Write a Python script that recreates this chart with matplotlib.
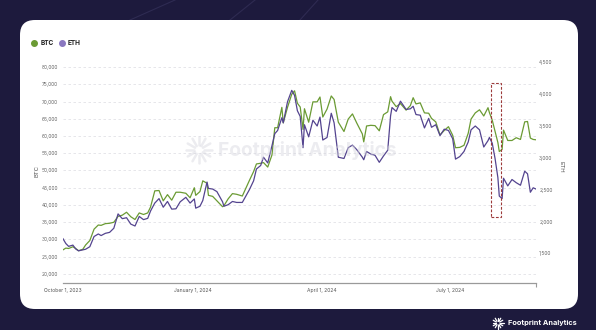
import matplotlib
matplotlib.use("Agg")
import matplotlib.pyplot as plt
import matplotlib.dates as mdates
from matplotlib.patches import FancyBboxPatch, Rectangle
from matplotlib.lines import Line2D
import numpy as np
import pandas as pd

plt.rcParams['font.family'] = ['Inter', 'DejaVu Sans']

dates = [
    "2023-10-01", "2023-10-03", "2023-10-05", "2023-10-08", "2023-10-10", "2023-10-12",
    "2023-10-15", "2023-10-17", "2023-10-20", "2023-10-23", "2023-10-26", "2023-10-28",
    "2023-10-31", "2023-11-03", "2023-11-06", "2023-11-09", "2023-11-12", "2023-11-15",
    "2023-11-18", "2023-11-21", "2023-11-24", "2023-11-27", "2023-11-30", "2023-12-02",
    "2023-12-05", "2023-12-08", "2023-12-11", "2023-12-14", "2023-12-17", "2023-12-20",
    "2023-12-23", "2023-12-27", "2023-12-30", "2024-01-02", "2024-01-03", "2024-01-06",
    "2024-01-08", "2024-01-11", "2024-01-12", "2024-01-15", "2024-01-18", "2024-01-22",
    "2024-01-23", "2024-01-26", "2024-01-29", "2024-02-01", "2024-02-05", "2024-02-08",
    "2024-02-10", "2024-02-13", "2024-02-15", "2024-02-18", "2024-02-20", "2024-02-23",
    "2024-02-26", "2024-02-28", "2024-03-01", "2024-03-04", "2024-03-05", "2024-03-08",
    "2024-03-11", "2024-03-13", "2024-03-15", "2024-03-17", "2024-03-19", "2024-03-20",
    "2024-03-23", "2024-03-26", "2024-03-29", "2024-03-31", "2024-04-02", "2024-04-05",
    "2024-04-08", "2024-04-10", "2024-04-13", "2024-04-17", "2024-04-20", "2024-04-23",
    "2024-04-26", "2024-04-30", "2024-05-01", "2024-05-03", "2024-05-06", "2024-05-09",
    "2024-05-12", "2024-05-15", "2024-05-18", "2024-05-20", "2024-05-21", "2024-05-24",
    "2024-05-27", "2024-05-31", "2024-06-03", "2024-06-05", "2024-06-07", "2024-06-10",
    "2024-06-13", "2024-06-16", "2024-06-18", "2024-06-21", "2024-06-24", "2024-06-27",
    "2024-06-30", "2024-07-03", "2024-07-05", "2024-07-08", "2024-07-11", "2024-07-14",
    "2024-07-16", "2024-07-19", "2024-07-22", "2024-07-25", "2024-07-28", "2024-07-29",
    "2024-07-31", "2024-08-02", "2024-08-04", "2024-08-05", "2024-08-07", "2024-08-08",
    "2024-08-11", "2024-08-14", "2024-08-17", "2024-08-20", "2024-08-23", "2024-08-25",
    "2024-08-27", "2024-08-29", "2024-08-31",
]

btc = [
    27000, 27500, 27400, 27900, 27400, 26750, 27150, 28400, 29700, 33000, 34200, 34100,
    34600, 34700, 35000, 36700, 37050, 37900, 36600, 35800, 37700, 37250, 37700, 39400,
    44100, 44200, 41200, 43000, 41400, 43700, 43700, 43400, 42100, 45000, 42800, 43900,
    47000, 46300, 42800, 42500, 41200, 39500, 39800, 41800, 43300, 43100, 42600, 45300,
    47100, 49700, 51900, 52100, 52300, 51000, 54500, 62400, 62400, 68300, 63800, 68300,
    72100, 73100, 69500, 68400, 61900, 67900, 64000, 69900, 69900, 71300, 65500, 67800,
    71600, 70600, 64000, 61300, 64900, 66400, 63800, 60600, 58300, 62900, 63100, 63000,
    61500, 66200, 67000, 71400, 70100, 68500, 69400, 67500, 68800, 71100, 69300, 69600,
    66700, 66600, 65100, 64100, 60300, 61600, 62700, 60200, 56600, 56700, 57300, 60800,
    64900, 66700, 67600, 65800, 68200, 66800, 64600, 61400, 58100, 55500, 56100, 61700,
    58700, 58700, 59500, 59000, 64100, 64200, 59400, 59000, 58900,
]

eth = [
    1730, 1655, 1610, 1630, 1570, 1540, 1555, 1565, 1605, 1765, 1805, 1780,
    1815, 1830, 1895, 2120, 2045, 2060, 1960, 1930, 2080, 2030, 2050, 2165,
    2290, 2360, 2225, 2315, 2195, 2200, 2310, 2380, 2290, 2355, 2210, 2240,
    2330, 2620, 2520, 2510, 2470, 2310, 2240, 2265, 2315, 2300, 2300, 2420,
    2500, 2640, 2825, 2880, 3010, 2920, 3190, 3380, 3430, 3630, 3550, 3880,
    4060, 3980, 3740, 3650, 3160, 3520, 3330, 3590, 3500, 3640, 3280, 3320,
    3700, 3550, 3010, 2990, 3160, 3200, 3130, 3010, 2970, 3100, 3060, 3040,
    2930, 3030, 3120, 3660, 3790, 3730, 3890, 3760, 3770, 3810, 3680, 3670,
    3470, 3620, 3480, 3520, 3350, 3450, 3430, 3300, 2980, 3020, 3100, 3250,
    3440, 3500, 3440, 3170, 3270, 3320, 3230, 2990, 2690, 2400, 2360, 2680,
    2560, 2660, 2610, 2570, 2790, 2750, 2460, 2530, 2510,
]

tick_dates = ["2023-10-01", "2024-01-01", "2024-04-01", "2024-07-01"]
tick_labels = ["October 1, 2023", "January 1, 2024", "April 1, 2024", "July 1, 2024"]
btc_ticks = list(range(20000, 80001, 5000))
eth_ticks = list(range(1500, 4501, 500))

BTC_COLOR = "#6b9b34"
ETH_COLOR = "#54448f"
BG = "#1d1a3d"

x = pd.to_datetime(dates)

fig = plt.figure(figsize=(5.96, 3.30), dpi=100)
fig.patch.set_facecolor(BG)
W, H = 596, 330

def px(xp, yp):
    return xp / W, 1 - yp / H

# faint diagonal streaks in the dark background
for x0, x1 in [(130, 175), (230, 255), (300, 318)]:
    fig.add_artist(Line2D([x0 / W, x1 / W], [1 - 20 / H, 1.0], color="#3a3660",
                          lw=0.8, alpha=0.6, zorder=-6))

# white card behind the axes
card = FancyBboxPatch(px(20, 309), 558 / W, 289 / H,
                      boxstyle="round,pad=0,rounding_size=0.025",
                      transform=fig.transFigure, facecolor="white", edgecolor="none",
                      mutation_aspect=W / H, zorder=-5)
fig.add_artist(card)

ax = fig.add_axes([63 / W, 1 - 283 / H, 473 / W, 221 / H])
ax.set_facecolor("none")
ax2 = ax.twinx()
ax2.set_facecolor("none")

ax.plot(x, btc, color=BTC_COLOR, lw=0.9, zorder=3)
ax2.plot(x, eth, color=ETH_COLOR, lw=0.9, zorder=3)

ax.set_xlim(pd.Timestamp("2023-10-01"), pd.Timestamp("2024-08-31"))
ax.set_ylim(17390, 81450)
ax2.set_ylim(1035, 4505)

ax.set_yticks(btc_ticks)
ax.set_yticklabels([f"{v:,}" for v in btc_ticks])
ax2.set_yticks(eth_ticks)
ax2.set_yticklabels([f"{v:,}" for v in eth_ticks])
ax.set_xticks(pd.to_datetime(tick_dates))
ax.set_xticklabels(tick_labels)
ax.set_xticks(pd.to_datetime(["2023-10-01", "2024-08-31"]), minor=True)

ax.grid(axis="y", color="#e2e2e6", lw=0.6, ls=(0, (3, 3)))
ax.set_axisbelow(True)

for a in (ax, ax2):
    for s in ("top", "left", "right", "bottom"):
        a.spines[s].set_visible(False)
ax.spines["bottom"].set_visible(True)
ax.spines["bottom"].set_color("#9a9a9a")
ax.spines["bottom"].set_linewidth(0.9)

ax.tick_params(axis="x", which="major", length=0, pad=3.5, labelsize=3.6, labelcolor="#555555")
ax.tick_params(axis="x", which="minor", length=3, width=0.8, color="#9a9a9a")
ax.tick_params(axis="y", length=0, pad=3.5, labelsize=3.5, labelcolor="#666666")
ax2.tick_params(axis="y", length=0, pad=2.3, labelsize=3.5, labelcolor="#666666")

# marked drop in early August
x_lo = mdates.date2num(pd.Timestamp("2024-07-30"))
x_hi = mdates.date2num(pd.Timestamp("2024-08-06"))
ax2.add_patch(Rectangle((x_lo, 2075), x_hi - x_lo, 4170 - 2075, fill=False,
                        edgecolor="#9c3a3a", lw=0.8, ls=(0, (2.5, 1.5)), zorder=4))

# axis titles
fig.text(*px(37, 171), "BTC", rotation=90, ha="center", va="center", fontsize=4.3, color="#555555")
fig.text(*px(561, 167), "ETH", rotation=270, ha="center", va="center", fontsize=4.3, color="#555555")

# legend
fig.add_artist(Line2D([34 / W], [1 - 43 / H], marker="o", ms=4.0, color=BTC_COLOR, mec=BTC_COLOR))
fig.text(*px(40.5, 43), "BTC", ha="left", va="center", fontsize=4.7, fontweight="bold", color="#222222")
fig.add_artist(Line2D([62 / W], [1 - 43 / H], marker="o", ms=4.0, color="#8a78c0", mec="#8a78c0"))
fig.text(*px(68, 43), "ETH", ha="left", va="center", fontsize=4.7, fontweight="bold", color="#222222")


def burst(cx, cy, r, color, alpha=1.0, lw=1.0):
    ang = np.linspace(0, 2 * np.pi, 12, endpoint=False)
    for a in ang:
        x0, y0 = cx + 0.35 * r * np.cos(a), cy + 0.35 * r * np.sin(a)
        x1, y1 = cx + r * np.cos(a), cy + r * np.sin(a)
        fig.add_artist(Line2D([x0 / W, x1 / W], [1 - y0 / H, 1 - y1 / H],
                              color=color, lw=lw, alpha=alpha, solid_capstyle="round"))


# watermark in the middle of the plot
burst(199, 150, 13, "#d6d6de", alpha=0.45, lw=1.8)
fig.text(*px(218, 151), "Footprint Analytics", ha="left", va="center", fontsize=13.8,
         fontweight="bold", color="#d6d6de", alpha=0.45)

# footer logo
burst(498, 323, 5.5, "white", lw=0.9)
fig.text(*px(508, 323), "Footprint Analytics", ha="left", va="center", fontsize=5.3,
         fontweight="bold", color="white")

fig.savefig("out.png", dpi=100, facecolor=BG)
